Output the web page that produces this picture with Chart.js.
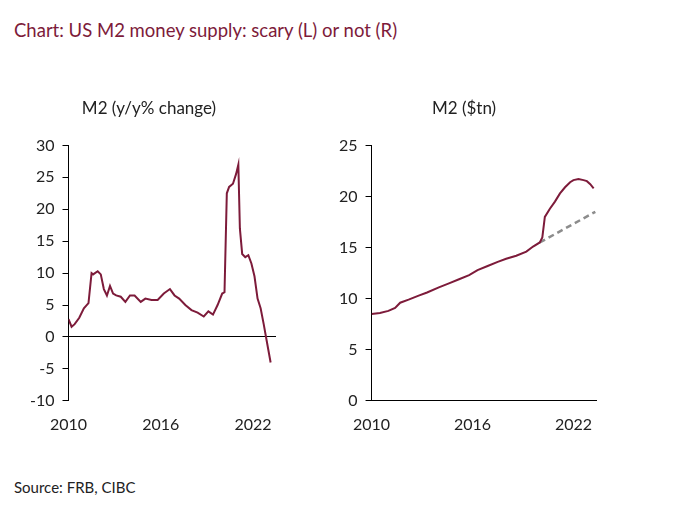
<!DOCTYPE html>
<html><head>
<script src="https://cdn.jsdelivr.net/npm/chart.js@4"></script>
<style>
body{margin:0;background:#fff;width:680px;height:509px;position:relative;font-family:Lato,"Open Sans",sans-serif;overflow:hidden}
#title{position:absolute;left:14px;top:19px;color:#7d1b3a;font-size:18.5px}
#src{position:absolute;left:14px;top:478px;font-size:15px;color:#222}
.box{position:absolute;top:98px;height:342px}
</style></head><body>
<div id="title">Chart: US M2 money supply: scary (L) or not (R)</div>
<div class="box" style="left:22px;width:258px"><canvas id="l"></canvas></div>
<div class="box" style="left:331px;width:270px"><canvas id="r"></canvas></div>
<div id="src">Source: FRB, CIBC</div>
<script>
const yoyX = [2010,2010.2,2010.4,2010.7,2011,2011.3,2011.5,2011.6,2011.9,2012.1,2012.3,2012.5,2012.7,2012.9,2013.1,2013.4,2013.7,2014,2014.3,2014.7,2015,2015.4,2015.8,2016.2,2016.6,2016.9,2017.2,2017.6,2018,2018.4,2018.8,2019.1,2019.4,2019.7,2020,2020.15,2020.3,2020.45,2020.7,2020.9,2021.05,2021.15,2021.3,2021.5,2021.7,2021.9,2022.1,2022.3,2022.5,2022.7,2022.85,2023,2023.15];
const yoyY = [2.8,1.6,2,3,4.5,5.3,10,9.8,10.3,9.8,7.5,6.5,8,6.8,6.5,6.3,5.5,6.5,6.5,5.5,6,5.8,5.8,6.8,7.5,6.5,6,5,4.2,3.8,3.2,4,3.5,5,6.8,7,22.5,23.5,24,25.5,27,17,13,12.5,12.8,11.5,9.5,6,4.5,2,0,-2,-4];
const lvlX = [2010,2010.5,2011,2011.4,2011.7,2012.2,2012.8,2013.3,2014,2014.6,2015.2,2015.8,2016.3,2016.9,2017.5,2018,2018.6,2019.2,2019.6,2020,2020.15,2020.3,2020.6,2020.9,2021.2,2021.5,2021.8,2022,2022.3,2022.6,2022.8,2023,2023.2];
const lvlY = [8.5,8.6,8.8,9.1,9.6,9.9,10.3,10.6,11.1,11.5,11.9,12.3,12.8,13.2,13.6,13.9,14.2,14.6,15.1,15.5,16,18,18.8,19.5,20.3,20.9,21.4,21.6,21.7,21.6,21.5,21.2,20.8];
const trendX = [2020,2023.3];
const trendY = [15.5,18.5];
const xTicks = [2010,2016,2022];

const red = '#7d1b3a';
const font = {family:'Lato, "Open Sans", sans-serif', size:16};
const pts = (xs, ys) => xs.map((x,i)=>({x, y:ys[i]}));
function xScale(max){
  return {type:'linear',min:2010,max,afterBuildTicks:s=>{s.ticks=xTicks.map(v=>({value:v}))},
    grid:{display:false},border:{display:false},
    ticks:{color:'#222',font,padding:6,maxRotation:0,callback:v=>String(v)}};
}
function opts(titleText, ymin, ymax, xmax){
  return {animation:false,responsive:true,maintainAspectRatio:false,
    plugins:{legend:{display:false},title:{display:true,text:titleText,color:'#222',
      font:{...font,size:17,weight:'normal'},padding:{bottom:27}}},
    layout:{padding:{right:4}},
    scales:{x:xScale(xmax),
      y:{min:ymin,max:ymax,ticks:{stepSize:5,color:'#222',font,padding:8},
        border:{display:true,color:'#000'},
        grid:{drawOnChartArea:true,tickLength:6,tickColor:'#000',color:c=>c.tick.value===0?'#000':'transparent'}}}};
}
new Chart(document.getElementById('l'),{type:'line',
  data:{datasets:[{data:pts(yoyX,yoyY),borderColor:red,borderWidth:2,pointRadius:0,tension:0}]},
  options:opts('M2 (y/y% change)',-10,30,2023.5)});
new Chart(document.getElementById('r'),{type:'line',
  data:{datasets:[{data:pts(lvlX,lvlY),borderColor:red,borderWidth:2,pointRadius:0},
    {data:pts(trendX,trendY),borderColor:'#8c8c8c',borderWidth:2.5,borderDash:[6,4],pointRadius:0}]},
  options:opts('M2 ($tn)',0,25,2023.4)});
</script></body></html>
